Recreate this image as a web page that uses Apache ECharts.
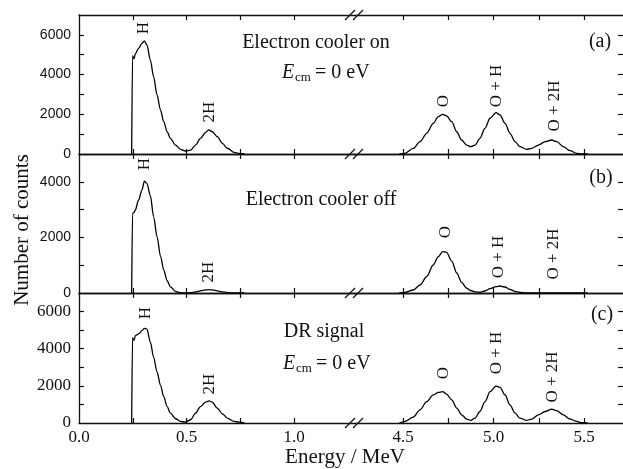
<!DOCTYPE html>
<html>
<head>
<meta charset="utf-8">
<script src="https://cdn.jsdelivr.net/npm/echarts@6/dist/echarts.min.js"></script>
<style>
html,body{margin:0;padding:0;background:#fff}
#chart{width:623px;height:469px}
</style>
</head>
<body>
<div id="chart"></div>
<script>
// energies (MeV) at which the spectra were read, low and high part of the broken axis
var energyLow = [0.245, 0.249, 0.256, 0.262, 0.277, 0.293, 0.304, 0.316, 0.332, 0.347, 0.363, 0.379, 0.394, 0.41, 0.425, 0.449, 0.472, 0.495, 0.519, 0.542, 0.565, 0.589, 0.604, 0.62, 0.643, 0.667, 0.69, 0.721, 0.744, 0.77];
var energyHigh = [4.48, 4.511, 4.557, 4.594, 4.631, 4.667, 4.695, 4.719, 4.741, 4.769, 4.797, 4.824, 4.852, 4.874, 4.898, 4.925, 4.953, 4.981, 5.014, 5.036, 5.064, 5.091, 5.119, 5.146, 5.183, 5.211, 5.248, 5.285, 5.321, 5.349, 5.386, 5.423, 5.46, 5.487, 5.52];

// (a) electron cooler on
var countsOnLow = [0, 4950, 4800, 5050, 5320, 5570, 5700, 5490, 4730, 3890, 2970, 2215, 1630, 1120, 790, 450, 235, 150, 200, 450, 790, 1090, 1210, 1120, 870, 540, 290, 85, 30, 0];
var countsOnHigh = [0, 35, 285, 620, 1040, 1545, 1880, 2000, 1915, 1630, 1120, 705, 450, 370, 450, 790, 1295, 1800, 2080, 1965, 1545, 1040, 620, 370, 235, 285, 450, 620, 705, 620, 370, 165, 35, 0, 0];
// (b) electron cooler off
var countsOffLow = [0, 2870, 2900, 2985, 3345, 3705, 4020, 3940, 3500, 2750, 2030, 1330, 830, 440, 220, 60, 10, 0, 10, 40, 80, 110, 120, 110, 80, 40, 15, 0, 0, 0];
var countsOffHigh = [0, 25, 108, 288, 586, 1007, 1306, 1490, 1460, 1150, 720, 380, 170, 90, 40, 30, 72, 160, 230, 252, 215, 130, 55, 25, 0, 0, 0, 0, 0, 0, 0, 0, 0, 0, 0];
// (c) DR signal
var countsDrLow = [0, 4600, 4450, 4700, 4800, 4970, 5100, 5060, 4350, 3550, 2750, 2040, 1420, 885, 530, 230, 85, 50, 175, 530, 885, 1120, 1190, 1120, 800, 495, 265, 85, 50, 0];
var countsDrHigh = [0, 85, 320, 710, 1150, 1510, 1650, 1685, 1560, 1240, 800, 440, 210, 140, 265, 620, 1150, 1685, 1990, 1920, 1510, 975, 530, 265, 140, 210, 440, 620, 745, 670, 440, 210, 85, 15, 0];

// axis ticks and labels
var xTicksLow = [0.25, 0.5, 0.75, 1.0];
var xLabelsLow = [0, 0.5, 1.0];
var xTicksHigh = [4.5, 4.75, 5.0, 5.25, 5.5];
var xLabelsHigh = [4.5, 5.0, 5.5];
var yMaxes = [7000, 5000, 7000];
var yTicks = [[1000, 2000, 3000, 4000, 5000, 6000], [1000, 2000, 3000, 4000], [1000, 2000, 3000, 4000, 5000, 6000]];
var yLabels = [[0, 2000, 4000, 6000], [0, 2000, 4000], [0, 2000, 4000, 6000]];

var panelTexts = ["Electron cooler on", "Electron cooler off", "DR signal"];
var panelTags = ["(a)", "(b)", "(c)"];

var chart = echarts.init(document.getElementById('chart'));

var SERIF = "Liberation Serif";
var SANS = "Liberation Sans";
var INK = "#111";

// layout
var panelTop = [15, 154, 293];
var panelHeight = [139, 139, 130];
var breakX = 355;
var lowLeft = 79, lowPx = 215;     // px per MeV on the low part
var highPx = 181;                  // px per MeV on the high part
var chartW = 623;

var lowMax = (breakX - lowLeft) / lowPx;
var highMin = 4.5 - (403 - breakX) / highPx;
var highMax = highMin + (chartW - breakX) / highPx;

var grids = [], xAxes = [], yAxes = [], series = [];
var lowData = [[countsOnLow, countsOnHigh], [countsOffLow, countsOffHigh], [countsDrLow, countsDrHigh]];

function pairs(xs, ys) {
	var out = [];
	for (var i = 0; i < xs.length; i++) out.push([xs[i], ys[i]]);
	return out;
}

for (var p = 0; p < 3; p++) {
	for (var s = 0; s < 2; s++) {
		var g = grids.length;
		var isLow = s == 0;
		grids.push({
			left: isLow ? lowLeft : breakX,
			width: isLow ? breakX - lowLeft : chartW - breakX,
			top: panelTop[p],
			height: panelHeight[p]
		});
		var lastPanel = p == 2;
		// bottom and top x axes
		for (var k = 0; k < 2; k++) {
			var bottom = k == 0;
			xAxes.push({
				type: 'value',
				gridIndex: g,
				position: bottom ? 'bottom' : 'top',
				min: isLow ? 0 : highMin,
				max: isLow ? lowMax : highMax,
				axisLine: {show: true, onZero: false, lineStyle: {color: INK, width: 1.3}},
				axisTick: {show: true, inside: true, length: 5, lineStyle: {color: INK, width: 1.2},
					customValues: isLow ? xTicksLow : xTicksHigh},
				axisLabel: {show: bottom && lastPanel, color: INK, fontFamily: SERIF, fontSize: 17, margin: 6,
					customValues: isLow ? xLabelsLow : xLabelsHigh,
					formatter: function (v) { return v.toFixed(1); }},
				splitLine: {show: false}
			});
		}
		// y axis: labels on the left part, ticks only on the right frame
		yAxes.push({
			type: 'value',
			gridIndex: g,
			position: isLow ? 'left' : 'right',
			min: 0,
			max: yMaxes[p],
			axisLine: {show: isLow, onZero: false, lineStyle: {color: INK, width: 1.3}},
			axisTick: {show: true, inside: true, length: 5, lineStyle: {color: INK, width: 1.2}, customValues: yTicks[p]},
			axisLabel: {show: isLow, color: INK, fontFamily: p == 2 ? SERIF : SANS, fontSize: p == 2 ? 17 : 14,
				margin: 8, customValues: yLabels[p],
				formatter: function (v) { return String(v); }},
			splitLine: {show: false}
		});
		series.push({
			type: 'line',
			xAxisIndex: g * 2,
			yAxisIndex: g,
			data: pairs(isLow ? energyLow : energyHigh, lowData[p][s]),
			showSymbol: false,
			smooth: 0.3,
			smoothMonotone: 'x',
			lineStyle: {color: '#000', width: 1.3},
			silent: true,
			animation: false
		});
	}
}

// texts
var graphics = [];
function txt(x, y, text, size, extra) {
	var o = {type: 'text', x: x, y: y, style: {text: text, fill: INK, font: size + 'px "' + SERIF + '"',
		align: 'center', verticalAlign: 'middle'}};
	if (extra) for (var k in extra) o[k] = extra[k];
	return o;
}
function ecm(x, y) {
	graphics.push({type: 'text', x: x, y: y, style: {text: 'E', fill: INK, font: 'italic 20px "' + SERIF + '"', align: 'left', verticalAlign: 'middle'}});
	graphics.push({type: 'text', x: x + 13, y: y + 5, style: {text: 'cm', fill: INK, font: '13px "' + SERIF + '"', align: 'left', verticalAlign: 'middle'}});
	graphics.push({type: 'text', x: x + 33, y: y, style: {text: '= 0 eV', fill: INK, font: '20px "' + SERIF + '"', align: 'left', verticalAlign: 'middle'}});
}

graphics.push(txt(316, 43, panelTexts[0], 20));
graphics.push(txt(321, 200, panelTexts[1], 20));
graphics.push(txt(324, 332, panelTexts[2], 20));
ecm(282, 73);
ecm(283, 364);
graphics.push(txt(600, 42, panelTags[0], 20));
graphics.push(txt(601, 178, panelTags[1], 20));
graphics.push(txt(602, 315, panelTags[2], 20));

// peak labels (rotated)
var rot = {rotation: Math.PI / 2};
var peaks = [
	[144, 28, 'H'], [210, 112, '2H'], [444, 101, 'O'], [497, 86, 'O + H'], [555, 106, 'O + 2H'],
	[145, 164, 'H'], [209, 272, '2H'], [446, 232, 'O'], [499, 257, 'O + H'], [554, 254, 'O + 2H'],
	[146, 313, 'H'], [210, 384, '2H'], [444, 373, 'O'], [497, 353, 'O + H'], [553, 377, 'O + 2H']
];
peaks.forEach(function (pk) { graphics.push(txt(pk[0], pk[1], pk[2], 17, rot)); });

// axis titles
graphics.push(txt(22, 230, 'Number of counts', 21, rot));
graphics.push(txt(345, 457, 'Energy / MeV', 21));

// break marks
[15, 154, 293, 423].forEach(function (y) {
	[-5, 3].forEach(function (dx) {
		graphics.push({type: 'line', shape: {x1: breakX + dx - 5, y1: y + 5, x2: breakX + dx + 5, y2: y - 5},
			style: {stroke: INK, lineWidth: 1.3}});
	});
});

chart.setOption({
	backgroundColor: '#fff',
	animation: false,
	grid: grids,
	xAxis: xAxes,
	yAxis: yAxes,
	series: series,
	graphic: graphics
});
</script>
</body>
</html>
